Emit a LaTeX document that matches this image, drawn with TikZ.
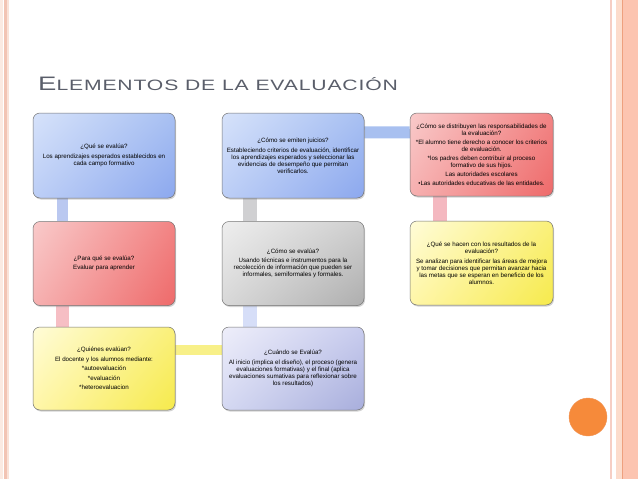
\documentclass[tikz,border=0pt]{standalone}
\usepackage{fontspec}
\setmainfont{Liberation Sans}
\usetikzlibrary{shadows,shadings,calc,backgrounds}
\definecolor{titlegrey}{HTML}{5A5E6A}
\definecolor{bUL}{HTML}{D6E2FA}\definecolor{bUR}{HTML}{A8C0F2}\definecolor{bLL}{HTML}{BCCEF6}\definecolor{bLR}{HTML}{8CA8EE}
\definecolor{rUL}{HTML}{F9CACA}\definecolor{rUR}{HTML}{F28484}\definecolor{rLL}{HTML}{F6B0B0}\definecolor{rLR}{HTML}{EE6A6A}
\definecolor{gUL}{HTML}{EEEEEE}\definecolor{gUR}{HTML}{CFCFCF}\definecolor{gLL}{HTML}{D8D8D8}\definecolor{gLR}{HTML}{AEAEAE}
\definecolor{yUL}{HTML}{FFFCD8}\definecolor{yUR}{HTML}{FAF07A}\definecolor{yLL}{HTML}{FFF6A8}\definecolor{yLR}{HTML}{F6EA4C}
\definecolor{lUL}{HTML}{EEEEFA}\definecolor{lUR}{HTML}{C8CCEE}\definecolor{lLL}{HTML}{D4D8F2}\definecolor{lLR}{HTML}{A8AEDC}
\definecolor{bd1}{HTML}{FBEAE2}\definecolor{bd2}{HTML}{F2C4B4}\definecolor{bd3}{HTML}{FAE2D8}
\definecolor{bd4}{HTML}{F6CEC4}\definecolor{bd5}{HTML}{FCDCCC}\definecolor{bd6}{HTML}{EEA07E}\definecolor{bd7}{HTML}{FCC4B0}
\definecolor{dotfill}{HTML}{F68A3A}\definecolor{dotdraw}{HTML}{F0965A}
\definecolor{c14}{HTML}{BAC8F0}\definecolor{c47}{HTML}{F6BEC4}\definecolor{c78}{HTML}{F8F088}
\definecolor{c85}{HTML}{D6DEF8}\definecolor{c52}{HTML}{D0D0D2}\definecolor{c23}{HTML}{A8C0F0}\definecolor{c36}{HTML}{F4B8C0}
\tikzset{
  box/.style={draw=black!55, line width=0.5pt, rounded corners=7pt, align=center,
    inner sep=2pt, text=black,
    font=\fontsize{6.2}{7}\selectfont,
    drop shadow={opacity=0.35, shadow xshift=1pt, shadow yshift=-1.5pt}},
  bluebox/.style={box, shade, upper left=bUL, upper right=bUR, lower left=bLL, lower right=bLR},
  redbox/.style={box, shade, upper left=rUL, upper right=rUR, lower left=rLL, lower right=rLR},
  greybox/.style={box, shade, upper left=gUL, upper right=gUR, lower left=gLL, lower right=gLR},
  yellowbox/.style={box, shade, upper left=yUL, upper right=yUR, lower left=yLL, lower right=yLR},
  lavbox/.style={box, shade, upper left=lUL, upper right=lUR, lower left=lLL, lower right=lLR},
  conn/.style={line width=#1},
}
\begin{document}
\begin{tikzpicture}[x=1pt,y=-1pt]
\useasboundingbox (0,0) rectangle (638,479);
% page borders
\fill[bd1] (0,0) rectangle (3,479);
\fill[bd2] (3.5,0) rectangle (7,479);
\fill[bd3] (7,0) rectangle (9,479);
\fill[bd4] (609.5,0) rectangle (612,479);
\fill[bd5] (616,0) rectangle (621.5,479);
\fill[bd6] (621.5,0) rectangle (623,479);
\fill[bd7] (623,0) rectangle (638,479);
% orange dot
\node[circle, fill=dotfill, draw=dotdraw, minimum size=38pt, inner sep=0pt] (dot) at (588,417) {};
% title
\node[anchor=base west, inner sep=0pt, text=titlegrey] (title) at (38,90.5)
  {\scalebox{1.41}[1]{\addfontfeature{LetterSpace=4}\fontsize{19.5}{20}\selectfont E\fontsize{15}{16}\selectfont LEMENTOS DE LA EVALUACIÓN}};
% boxes
\node[bluebox, minimum width=142pt, minimum height=85pt] (b1) at (104,155.5)
  {¿Qué se evalúa?\\[2.5pt] Los aprendizajes esperados establecidos en\\ cada campo formativo};
\node[bluebox, minimum width=142pt, minimum height=85pt] (b2) at (293,155.5)
  {¿Cómo se emiten juicios?\\[2.5pt] Estableciendo criterios de evaluación, identificar\\ los aprendizajes esperados y seleccionar las\\ evidencias de desempeño que permitan\\ verificarlos.};
\node[redbox, minimum width=143pt, minimum height=83pt] (b3) at (481.5,154.5)
  {¿Cómo se distribuyen las responsabilidades de\\ la evaluación?\\[2pt] *El alumno tiene derecho a conocer los criterios\\ de evaluación.\\[2pt] *los padres deben contribuir al proceso\\ formativo de sus hijos.\\[2pt] Las autoridades escolares\\[2pt] •Las autoridades educativas de las entidades.};
\node[redbox, minimum width=142pt, minimum height=84pt] (b4) at (104,263.5)
  {¿Para qué se evalúa?\\[2.5pt] Evaluar para aprender};
\node[greybox, minimum width=142pt, minimum height=84pt] (b5) at (293,263.5)
  {¿Cómo se evalúa?\\[2.5pt] Usando técnicas e instrumentos para la\\ recolección de información que pueden ser\\ informales, semiformales y formales.};
\node[yellowbox, minimum width=143pt, minimum height=84pt] (b6) at (481.5,263)
  {¿Qué se hacen con los resultados de la\\ evaluación?\\[2.5pt] Se analizan para identificar las áreas de mejora\\ y tomar decisiones que permitan avanzar hacia\\ las metas que se esperan en beneficio de los\\ alumnos.};
\node[yellowbox, minimum width=142pt, minimum height=83pt] (b7) at (104,368.5)
  {¿Quiénes evalúan?\\[2.5pt] El docente y los alumnos mediante:\\[2.5pt] *autoevaluación\\[2.5pt] *evaluación\\[2.5pt] *heteroevaluacion};
\node[lavbox, minimum width=142pt, minimum height=83pt] (b8) at (293,368.5)
  {¿Cuándo se Evalúa?\\[2.5pt] Al inicio (implica el diseño), el proceso (genera\\ evaluaciones formativas) y el final (aplica\\ evaluaciones sumativas para reflexionar sobre\\ los resultados)};
% connectors
\begin{scope}[on background layer]
\draw[conn=11pt, c14] ($(b1.south west)!0.21!(b1.south east)$) -- ($(b4.north west)!0.21!(b4.north east)$);
\draw[conn=13pt, c47] ($(b4.south west)!0.21!(b4.south east)$) -- ($(b7.north west)!0.21!(b7.north east)$);
\draw[conn=10pt, c78] ($(b7.north east)!0.28!(b7.south east)$) -- ($(b8.north west)!0.28!(b8.south west)$);
\draw[conn=14pt, c85] ($(b8.north west)!0.2!(b8.north east)$) -- ($(b5.south west)!0.2!(b5.south east)$);
\draw[conn=14pt, c52] ($(b5.north west)!0.2!(b5.north east)$) -- ($(b2.south west)!0.2!(b2.south east)$);
\draw[conn=12pt, c23] ($(b2.north east)!0.23!(b2.south east)$) -- ($(b3.north west)!0.235!(b3.south west)$);
\draw[conn=14pt, c36] ($(b3.south west)!0.21!(b3.south east)$) -- ($(b6.north west)!0.21!(b6.north east)$);
\end{scope}
\end{tikzpicture}
\end{document}
